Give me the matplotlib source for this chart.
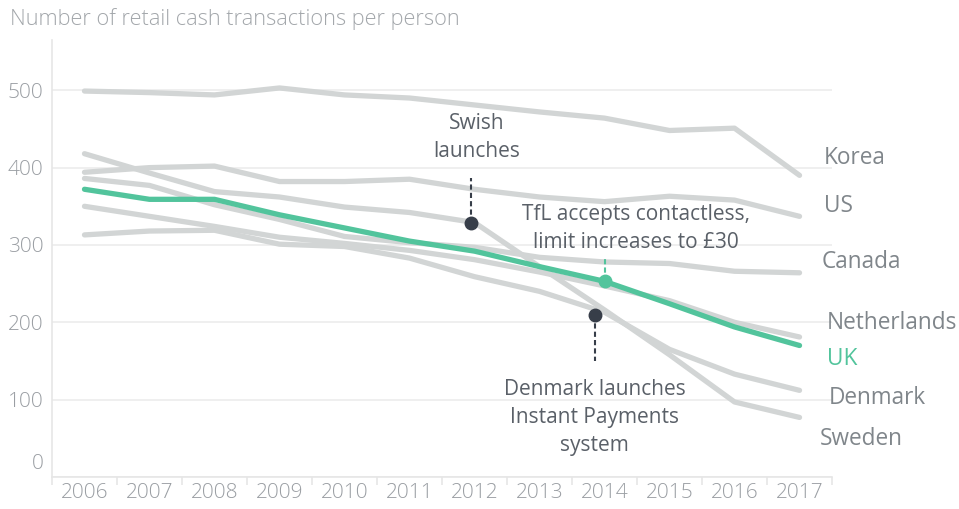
import matplotlib
matplotlib.use("Agg")
import matplotlib.pyplot as plt
import matplotlib.transforms as mtransforms
import numpy as np

plt.rcParams['font.family'] = ['Open Sans', 'DejaVu Sans']
plt.rcParams['font.weight'] = 'light'

years = list(range(2006, 2018))

korea = [499, 497, 494, 503, 494, 490, 481, 472, 464, 448, 451, 390]
us = [394, 400, 402, 382, 382, 385, 372, 362, 356, 363, 358, 337]
canada = [386, 377, 352, 333, 311, 303, 297, 284, 278, 276, 266, 264]
netherlands = [350, 337, 324, 310, 302, 293, 281, 265, 247, 228, 200, 181]
denmark = [313, 318, 319, 301, 298, 283, 259, 240, 213, 165, 133, 112]
sweden = [418, 393, 369, 362, 349, 342, 329, 272, 216, 158, 97, 77]
uk = [372, 359, 359, 339, 322, 305, 292, 272, 253, 224, 194, 170]

countries = ["Korea", "US", "Canada", "Netherlands", "Denmark", "Sweden"]
series = [korea, us, canada, netherlands, denmark, sweden]

# event markers: (text, year, value, colour)
events = [
    ("Swish\nlaunches", 2011.95, 329, "#373e49"),
    ("TfL accepts contactless,\nlimit increases to £30", 2014, 253, "#52c49c"),
    ("Denmark launches\nInstant Payments\nsystem", 2013.85, 209, "#373e49"),
]

GREY = "#d2d5d5"
GREEN = "#52c49c"

fig = plt.figure(figsize=(9.59, 5.09), dpi=100)
ax = fig.add_axes([0.0542, 0.0629, 0.8134, 0.8585])

for vals in series:
    ax.plot(years, vals, color=GREY, lw=3.8, solid_capstyle='round', solid_joinstyle='round', zorder=2)
ax.plot(years, uk, color=GREEN, lw=3.8, solid_capstyle='round', solid_joinstyle='round', zorder=3)

ax.set_xlim(2005.5, 2017.5)
ax.set_ylim(0, 565)

# gridlines
ax.set_yticks([0, 100, 200, 300, 400, 500])
ax.grid(axis='y', color='#ececec', lw=1.2, zorder=0)
ax.set_xticks(years)
ax.set_xticks(np.arange(2005.5, 2018, 1), minor=True)
ax.tick_params(axis='x', which='major', length=0, pad=4, labelsize=15, labelcolor='#9a9ea3')
ax.tick_params(axis='x', which='minor', length=6, width=1.2, color='#e6e6e6', direction='out')
ax.tick_params(axis='y', length=0, pad=6, labelsize=15, labelcolor='#9a9ea3')

for s in ['top', 'right']:
    ax.spines[s].set_visible(False)
for s in ['left', 'bottom']:
    ax.spines[s].set_color('#e6e6e6')
    ax.spines[s].set_linewidth(1.2)

# "0" label sits a bit above the baseline
zero = ax.get_yticklabels()[0]
zero.set_transform(zero.get_transform() + mtransforms.ScaledTranslation(0, 15 / 100, fig.dpi_scale_trans))

fig.text(0.0105, 0.963, "Number of retail cash transactions per person", fontsize=15.7,
         color='#a3a7ab', ha='left', va='center')

# series labels
label_pos = {"Korea": (2017.38, 412), "US": (2017.37, 350), "Canada": (2017.34, 278),
             "Netherlands": (2017.42, 199), "Denmark": (2017.45, 102), "Sweden": (2017.31, 49)}
for name in countries:
    x, y = label_pos[name]
    ax.text(x, y, name, fontsize=16.3, fontweight='normal', color='#80868b',
            ha='left', va='center', clip_on=False)
ax.text(2017.42, 152, "UK", fontsize=16.3, fontweight='normal', color=GREEN,
        ha='left', va='center', clip_on=False)

# events
text_pos = [(2012.03, 439, 387), (2014.48, 321, 284), (2013.85, 77, 150)]
for (txt, ex, ey, col), (tx, ty, dash_end) in zip(events, text_pos):
    ax.plot([ex, ex], [ey, dash_end], color=col, lw=1.5, ls=(0, (2.5, 1.5)), zorder=4)
    ax.plot(ex, ey, 'o', color=col, ms=9, zorder=5)
    ax.text(tx, ty, txt, fontsize=15, fontweight='normal', color='#5a6068', ha='center',
            va='center', linespacing=1.45, zorder=6)

fig.savefig("out.png", dpi=100)
